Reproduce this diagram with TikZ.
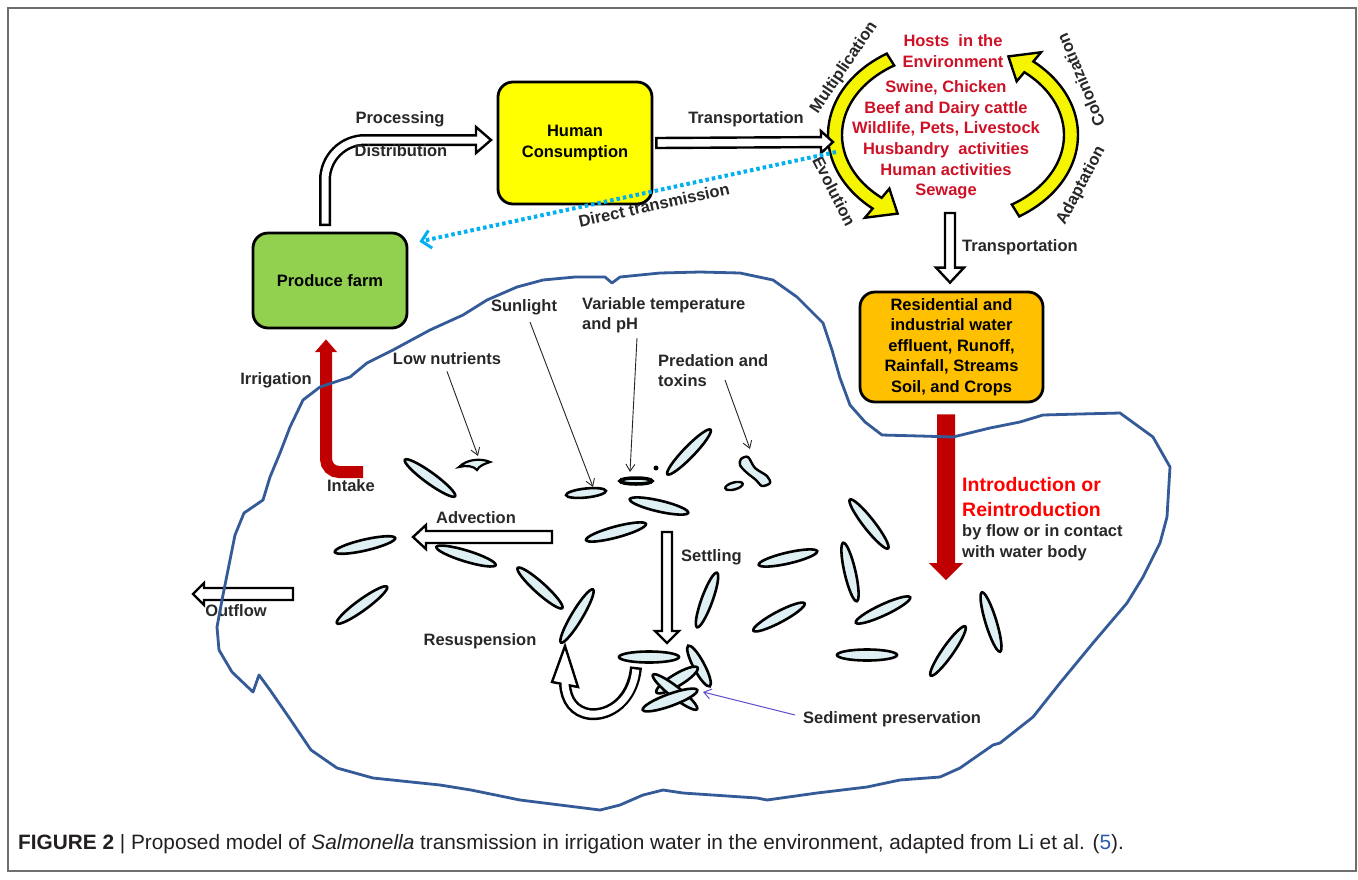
\documentclass[tikz,border=0pt]{standalone}
\usepackage{fontspec}
\setmainfont{Liberation Sans}
\usetikzlibrary{calc,arrows.meta}
\definecolor{hcyellow}{RGB}{255,255,0}
\definecolor{arrowyellow}{RGB}{245,245,0}
\definecolor{farmgreen}{RGB}{146,208,80}
\definecolor{orangebox}{RGB}{255,192,0}
\definecolor{hostred}{RGB}{206,17,38}
\definecolor{darkred}{RGB}{192,0,0}
\definecolor{introred}{RGB}{255,0,0}
\definecolor{lakeblue}{RGB}{52,90,152}
\definecolor{cellfill}{RGB}{222,240,243}
\definecolor{dtblue}{RGB}{0,176,240}
\definecolor{sedpurple}{RGB}{100,80,200}
\definecolor{framegray}{RGB}{110,110,110}
\definecolor{captext}{RGB}{35,31,32}
\definecolor{textgray}{RGB}{40,40,40}
\definecolor{linkblue}{RGB}{40,90,170}
% straight hollow block arrow: [opts]{tail}{tip}{half shaft}{half head}{head length}
\newcommand\blockarrow[6][]{%
  \coordinate (bahb) at ($(#3)!#6!(#2)$);
  \draw[blockarr,#1] ($(#2)!#4!90:(#3)$) -- ($(bahb)!#4!90:(#3)$) -- ($(bahb)!#5!90:(#3)$)
    -- (#3) -- ($(bahb)!#5!-90:(#3)$) -- ($(bahb)!#4!-90:(#3)$) -- ($(#2)!#4!-90:(#3)$) -- cycle;}
\begin{document}
\begin{tikzpicture}[x=1pt,y=-1pt,
  lbl/.style={font=\fontsize{16.5}{20}\selectfont\bfseries, inner sep=0pt, text height=11.8pt, text depth=0.5pt, text=textgray},
  mlbl/.style={font=\fontsize{16.5}{20.5}\selectfont\bfseries, inner sep=0pt, align=center},
  box/.style={draw=black, line width=2.8pt, rounded corners=15pt, inner sep=0pt},
  blockarr/.style={draw=black, fill=white, line width=2.4pt, line join=miter},
  cell/.style={draw=black, fill=cellfill, line width=2.6pt},
  pointer/.style={draw=black!85, line width=0.9pt, -{Straight Barb[length=7pt,width=9pt]}},
  lake/.style={draw=lakeblue, line width=2.8pt, line join=round},
  yarr/.style={draw=black, fill=arrowyellow, line width=2.4pt, line join=miter},
]
\useasboundingbox (0,0) rectangle (1358,879);
\fill[white] (0,0) rectangle (1358,879);
\draw[framegray, line width=1.5pt] (8,8) rectangle (1356,871);

% ---------- boxes ----------
\node[box, fill=hcyellow, minimum width=154pt, minimum height=122pt,
      font=\fontsize{16.5}{21}\selectfont\bfseries, align=center] (hc) at (575,143) {Human\\Consumption};
\node[box, fill=farmgreen, minimum width=154pt, minimum height=95pt,
      font=\fontsize{16.5}{20}\selectfont\bfseries] (farm) at (330,280.5) {Produce farm};
\node[box, fill=orangebox, minimum width=183pt, minimum height=110pt,
      font=\fontsize{16.5}{20.5}\selectfont\bfseries, align=center] (orange) at (951.5,347)
  {Residential and\\industrial water\\effluent, Runoff,\\Rainfall, Streams\\Soil, and Crops};

% ---------- circle of hosts ----------
\draw[yarr] plot[domain=122:230, samples=40, variable=\t] ({953+125*cos(\t)},{135-96*sin(\t)})
  -- ({953+137*cos(230)},{135-108*sin(230)}) -- ({953+118*cos(242)},{135-89*sin(242)})
  -- ({953+99*cos(230)},{135-70*sin(230)})
  -- plot[domain=230:122, samples=40, variable=\t] ({953+111*cos(\t)},{135-82*sin(\t)}) -- cycle;
\draw[yarr] plot[domain=-58:50, samples=40, variable=\t] ({953+125*cos(\t)},{135-96*sin(\t)})
  -- ({953+137*cos(50)},{135-108*sin(50)}) -- ({953+118*cos(62)},{135-89*sin(62)})
  -- ({953+99*cos(50)},{135-70*sin(50)})
  -- plot[domain=50:-58, samples=40, variable=\t] ({953+111*cos(\t)},{135-82*sin(\t)}) -- cycle;
\node[mlbl, text=hostred] (hosthead) at (953,51) {Hosts\ \ in the\\Environment};
\node[mlbl, text=hostred, font=\fontsize{16.5}{20.6}\selectfont\bfseries] (hostlist) at (946,140)
  {Swine, Chicken\\Beef and Dairy cattle\\Wildlife, Pets, Livestock\\Husbandry\ \ activities\\Human activities\\Sewage};
\node[lbl, rotate=56] (mult) at (843,67) {Multiplication};
\node[lbl, rotate=-63] (evo) at (834,191) {Evolution};
\node[lbl, rotate=113] (colo) at (1081,80) {Colonization};
\node[lbl, rotate=62] (adap) at (1080,185) {Adaptation};
\coordinate (hostL) at (833,142);
\coordinate (hostB) at (950,213);

% ---------- hollow arrows ----------
% processing / distribution
\draw[line width=12pt, rounded corners=40pt] (325,226) |- (476,140);
\draw[blockarr] (476,127) -- (491,140) -- (476,153) -- cycle;
\draw[white, line width=7pt, rounded corners=40pt] (325,223.5) |- (479.5,140);
\node[lbl] (proc) at (400,118) {Processing};
\node[lbl] (dist) at (401,151) {Distribution};

% transportation to hosts
\coordinate (t1) at ($(hc.east)+(3,0)$);
\blockarrow{t1}{hostL}{5pt}{11pt}{12pt}
\node[lbl] (tr1) at (746,118) {Transportation};

% transportation down to effluent box
\coordinate (t2) at ($(orange.north)+(-1.5,-8)$);
\blockarrow{hostB}{t2}{5pt}{14pt}{15pt}
\node[lbl, anchor=west] (tr2) at (962,246) {Transportation};

% direct transmission
\coordinate (dt1) at (836,152);
\coordinate (dt2) at ($(farm.north east)+(11,10)$);
\draw[dtblue, line width=4pt, dash pattern=on 3.5pt off 3pt,
      -{Straight Barb[length=9pt,width=18pt,line width=3pt]}] (dt1) -- (dt2);
\node[lbl, rotate=12.5] (dtlbl) at (654,205) {Direct transmission};

% irrigation
\coordinate (irrtip) at ($(farm.south)+(-4,10)$);
\draw[darkred, line width=12pt, rounded corners=13pt] (363,472) -- (326,472) -- (326,351);
\fill[darkred] (315,352) -- (irrtip) -- (337,352) -- cycle;
\node[lbl] (irr) at (276,379) {Irrigation};
\node[lbl] (intake) at (351,486) {Intake};

% introduction
\coordinate (in1) at ($(orange.south)+(-5.5,11)$);
\coordinate (in2) at (946,580);
\blockarrow[draw=none, fill=darkred]{in1}{in2}{9pt}{17pt}{17pt}
\node[inner sep=0pt, anchor=west, align=left, text=introred,
      font=\fontsize{19.5}{25}\selectfont\bfseries] (intro) at (962,497.5) {Introduction or\\Reintroduction};
\node[inner sep=0pt, anchor=west, align=left, text=textgray,
      font=\fontsize{16.5}{21}\selectfont\bfseries] (byflow) at (962,542.5) {by flow or in contact\\with water body};

% ---------- water body processes ----------
\coordinate (adv1) at (552,537); \coordinate (adv2) at (413,537);
\blockarrow{adv1}{adv2}{6pt}{12pt}{13pt}
\node[lbl] (adv) at (476,518) {Advection};
\coordinate (set1) at (667,532); \coordinate (set2) at (667,643);
\blockarrow{set1}{set2}{5pt}{12pt}{12pt}
\node[lbl, anchor=west] (settle) at (681,556) {Settling};
\coordinate (out1) at (293,594); \coordinate (out2) at (193,594);
\blockarrow{out1}{out2}{6pt}{11pt}{11pt}
\node[lbl] (outfl) at (236,611) {Outflow};

% cells
\foreach \cx/\cy/\ang/\rx in {430/478/-36/31, 689/452/46/31, 659/506/-13/30, 365/545/13/31,
   466/556/-17/31, 540/588/-42/30, 362/605/36/31, 577/616/59/31, 616/532/15/31, 707/600/70/29,
   788/558/13/30, 779/617/28/29, 869/524/-52/31, 850/572/-77/30, 883/610/25/30, 867/655/0/30,
   948/651/55/30, 991/622/-73/31, 649/657/0/30}
  \draw[cell, rotate around={\ang:(\cx,\cy)}] (\cx,\cy) ellipse ({\rx} and 5.5);
% sediment cluster
\draw[cell, rotate around={-62:(699,666)}] (699,666) ellipse (23 and 5.5);
\draw[cell, rotate around={31:(677,680)}] (677,680) ellipse (24 and 6);
\draw[cell, rotate around={-38:(675,692)}] (675,692) ellipse (28 and 5.5);
\draw[cell, rotate around={20:(670,700)}] (670,700) ellipse (29 and 6);

% resuspension arrow
\draw[line width=12pt] (636,667) .. controls (633,700) and (610,716) .. (590,714)
   .. controls (574,712) and (566,700) .. (565,684);
\draw[blockarr] (552,682) -- (565,646) -- (578,687) -- cycle;
\draw[white, line width=7pt] (635.8,669.5) .. controls (633,700) and (610,716) .. (590,714)
   .. controls (574,712) and (566,700) .. (565,684) -- (565,679);
\node[lbl] (resus) at (480,640) {Resuspension};

% damaged cells (targets)
\draw[cell, line width=2.2pt] (459,467) .. controls (467,459) and (481,458) .. (490,462)
   .. controls (484,464) and (479,466) .. (477,470) .. controls (474,466) and (466,465) .. (459,467) -- cycle;
\coordinate (lnT) at (478,456);
\draw[cell, rotate around={6:(586,493)}] (586,493) ellipse (20 and 4.5);
\coordinate (sunT) at (593,487);
\draw[cell, line width=3.5pt] (636,481) ellipse (16 and 3);
\fill (656,468) circle (2.5);
\coordinate (vtT) at (630,472);
\draw[cell, line width=2.4pt] plot[smooth cycle] coordinates {(741,459) (748,457) (755,468) (767,476) (770,483) (762,486) (756,480) (746,472) (740,465)};
\draw[cell, line width=2.4pt, rotate around={15:(734,486)}] (734,486) ellipse (9 and 3.5);
\coordinate (prT) at (750,449);

\node[lbl] (lownut) at (447,359) {Low nutrients};
\node[lbl] (sun) at (524,306) {Sunlight};
\node[mlbl, align=left, anchor=west, text=textgray, font=\fontsize{16.5}{20}\selectfont\bfseries] (vartemp) at (582,315) {Variable temperature\\and pH};
\node[mlbl, align=left, anchor=west, text=textgray, font=\fontsize{16.5}{20}\selectfont\bfseries] (pred) at (658,371) {Predation and\\toxins};
\draw[pointer] (lownut.south) ++(0,6) -- (lnT);
\draw[pointer] (530,322) -- (sunT);
\draw[pointer] (637,338) -- (vtT);
\draw[pointer] (725,380) -- (prT);

\coordinate (sedT) at (703,692);
\node[lbl, anchor=west] (sedp) at (803,718) {Sediment preservation};
\draw[sedpurple, line width=1pt, -{Straight Barb[length=7pt,width=10pt]}] (sedp.west) ++(-8,-3) -- (sedT);

% ---------- water body outline ----------
\draw[lake] plot coordinates {(320,387) (350,377) (367,363) (393,350) (430,330) (463,315) (487,300)
  (517,287) (543,280) (575,277) (605,277) (612,283) (620,277) (660,273) (700,272) (740,273)
  (773,280) (797,297) (823,323) (832,350) (840,378) (850,405) (865,422) (882,435) (920,436)
  (953,437) (990,428) (1020,422) (1043,415) (1080,414) (1120,413) (1153,437) (1170,467)
  (1168,500) (1167,517) (1160,543) (1143,577) (1127,603) (1093,643) (1060,683) (1033,717)
  (1000,743) (993,745) (960,768) (940,777) (900,780) (867,787) (817,793) (767,800) (757,798)
  (683,793) (663,790) (643,795) (620,805) (600,810) (560,805) (520,800) (471,790) (440,785)
  (373,778) (337,768) (311,750) (288,716) (270,690) (259,675) (253,692) (232,672) (219,650)
  (217,627) (222,600) (228,570) (235,535) (244,513) (263,500) (270,477) (280,453) (290,427)
  (303,400)} -- cycle;

% ---------- caption ----------
\node[anchor=base west, inner sep=0pt, font=\fontsize{20.8}{24}\selectfont, text=captext] (cap) at (18,849)
  {\textbf{FIGURE 2} | Proposed model of \textit{Salmonella} transmission in irrigation water in the environment, adapted from Li et al. (\textcolor{linkblue}{5}).};
\end{tikzpicture}
\end{document}
